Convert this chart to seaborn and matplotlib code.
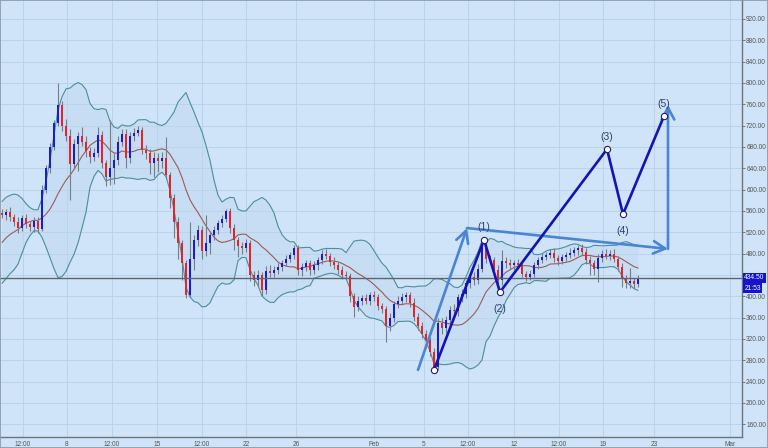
import numpy as np
import pandas as pd
import matplotlib
matplotlib.use("Agg")
import matplotlib.pyplot as plt
import seaborn as sns
from matplotlib.patches import Rectangle

# ---------------- data ----------------
warmup_close = [450, 462, 478, 470, 455, 470, 492, 510, 528, 540, 550, 556]

close = [552, 558, 548, 540, 528, 546, 536, 530, 542, 526,
         600, 640, 680, 725, 759, 720, 700, 648, 685, 700,
         690, 672, 662, 668, 702, 650, 624, 640, 655, 690,
         705, 660, 700, 706, 712, 675, 668, 650, 660, 654,
         660, 628, 585, 540, 500, 462, 402, 470, 505, 525,
         485, 500, 515, 525, 538, 545, 560, 528, 505, 495,
         490, 500, 440, 430, 440, 412, 448, 444, 450, 455,
         462, 470, 478, 490, 450, 455, 462, 450, 458, 468,
         480, 476, 465, 458, 450, 440, 438, 400, 380, 392,
         396, 392, 402, 398, 382, 376, 345, 360, 385, 392,
         398, 402, 388, 362, 345, 330, 318, 296, 268, 350,
         340, 356, 375, 372, 398, 405, 425, 436, 430, 452,
         495, 470, 468, 450, 430, 466, 462, 458, 462, 458,
         442, 436, 442, 458, 468, 474, 478, 482, 472, 466,
         474, 478, 482, 486, 490, 484, 468, 462, 452, 472,
         480, 476, 480, 470, 455, 432, 425, 428, 424, 434.5]

wick_up = [8, 6, 10, 6, 8, 6, 8, 6, 6, 6,
           8, 6, 8, 6, 41, 8, 12, 14, 10, 8,
           17, 10, 8, 10, 15, 8, 6, 90, 14, 10,
           8, 8, 8, 10, 8, 6, 8, 8, 10, 8,
           10, 39, 6, 6, 8, 6, 6, 70, 10, 8,
           6, 52, 8, 6, 6, 8, 4, 6, 8, 6,
           6, 8, 6, 8, 10, 6, 8, 10, 6, 8,
           6, 8, 6, 6, 6, 8, 6, 6, 8, 6,
           6, 8, 6, 8, 6, 6, 8, 6, 6, 8,
           6, 8, 6, 8, 6, 6, 6, 8, 6, 8,
           8, 6, 6, 8, 6, 6, 6, 6, 8, 10,
           10, 8, 6, 10, 6, 8, 6, 8, 10, 8,
           11, 6, 8, 6, 8, 21, 8, 8, 6, 8,
           6, 6, 8, 6, 6, 8, 6, 6, 8, 6,
           6, 6, 8, 6, 6, 8, 6, 8, 6, 8,
           6, 8, 6, 8, 6, 8, 8, 25, 6, 6]

wick_dn = [6, 8, 6, 8, 10, 6, 8, 8, 10, 8,
           4, 6, 8, 6, 6, 10, 8, 68, 10, 50,
           8, 10, 12, 8, 6, 10, 18, 16, 30, 8,
           8, 20, 10, 8, 6, 8, 10, 20, 26, 20,
           14, 8, 20, 30, 30, 32, 6, 4, 20, 10,
           15, 10, 20, 10, 8, 8, 6, 10, 18, 22,
           10, 6, 12, 10, 10, 12, 8, 8, 8, 8,
           8, 6, 6, 8, 10, 12, 8, 10, 8, 8,
           8, 6, 8, 6, 8, 8, 6, 10, 18, 8,
           8, 6, 8, 6, 8, 8, 31, 10, 8, 6,
           6, 8, 8, 8, 8, 8, 10, 8, 6, 6,
           10, 8, 8, 6, 8, 8, 8, 10, 8, 6,
           6, 8, 8, 8, 20, 8, 8, 6, 8, 6,
           6, 8, 6, 6, 6, 6, 6, 6, 8, 8,
           6, 8, 6, 6, 8, 6, 8, 22, 12, 26,
           8, 6, 8, 6, 8, 14, 9, 10, 8, 6]

x_tick_pos = [5.25, 16.25, 27.5, 38.75, 50, 61, 73.5, 93, 105.5, 116.5,
              128, 139.25, 150.25, 163, 182]
x_tick_labels = ["12:00", "8", "12:00", "15", "12:00", "22", "26", "Feb", "5",
                 "12:00", "12", "12:00", "19", "23", "Mar"]
y_ticks = list(range(160, 921, 40))

wave_x = [108, 120.5, 124.5, 151.25, 155.25, 165.5]
wave_y = [262, 506, 408, 676, 554, 738]
wave_labels = ["", "(1)", "(2)", "(3)", "(4)", "(5)"]
wave_label_dy = [0, 9, -12, 9, -12, 9]

arrow_x = [104, 116.25, 166.5, 166.5]
arrow_y = [262, 528, 489, 759]

last_price = 434.50
last_time = "21:53"

# ---------------- styling ----------------
BG = "#cfe4f8"
GRID = "#b6d0ea"
UP = "#1c1cc8"
DN = "#e3242b"
WICK = "#7c7c84"
BAND = "#4e8e98"
MID = "#9c5c58"
WAVE = "#1414b4"
ARROW = "#4a84d6"
TXT = "#555555"

sns.set_style("white")
plt.rcParams["font.family"] = ["Liberation Sans", "DejaVu Sans"]

fig = plt.figure(figsize=(7.68, 4.48), dpi=100, facecolor=BG)
ax = fig.add_axes([0, 11 / 448, 742 / 768, 1 - 11 / 448])
ax.set_facecolor(BG)

n = len(close)
x = np.arange(n)
c = np.array(close, dtype=float)
o = np.r_[warmup_close[-1], c[:-1]]
hi = np.maximum(o, c) + np.array(wick_up)
lo = np.minimum(o, c) - np.array(wick_dn)

# Bollinger bands computed from closes
s = pd.Series(np.r_[warmup_close, c])
mid = s.rolling(13).mean().to_numpy()[-n:]
sd = s.rolling(13).std(ddof=0).to_numpy()[-n:]
upper = mid + 2 * sd
lower = mid - 2 * sd

ax.fill_between(x, lower, upper, color="#bcd6ee", alpha=0.45, lw=0, zorder=1)
df = pd.DataFrame({"x": x, "upper": upper, "lower": lower, "mid": mid})
sns.lineplot(data=df, x="x", y="upper", ax=ax, color=BAND, lw=0.8, zorder=2)
sns.lineplot(data=df, x="x", y="lower", ax=ax, color=BAND, lw=0.8, zorder=2)
sns.lineplot(data=df, x="x", y="mid", ax=ax, color=MID, lw=0.8, zorder=2)

# candles
ax.vlines(x, lo, hi, color=WICK, lw=0.8, zorder=3)
cols = [UP if cc >= oo else DN for oo, cc in zip(o, c)]
ax.bar(x, c - o, bottom=o, width=0.72, color=cols, lw=0, zorder=4)

# last price line
ax.axhline(last_price, color="#5c6670", lw=1.0, zorder=5)

# light-blue arrows
for i in range(len(arrow_x) - 1):
    ax.annotate("", xy=(arrow_x[i + 1], arrow_y[i + 1]), xytext=(arrow_x[i], arrow_y[i]),
                arrowprops=dict(arrowstyle="->,head_length=0.85,head_width=0.45",
                                color=ARROW, lw=1.9, shrinkA=0, shrinkB=0),
                zorder=6)

# Elliott wave
sns.lineplot(x=wave_x, y=wave_y, ax=ax, sort=False, color=WAVE, lw=1.9, zorder=7)
ax.plot(wave_x, wave_y, ls="none", marker="o", ms=4.5, mfc="white", mec="#202060",
        mew=0.8, zorder=8)
for wx, wy, lab, dy in zip(wave_x, wave_y, wave_labels, wave_label_dy):
    if lab:
        ax.annotate(lab, (wx, wy), xytext=(0, dy), textcoords="offset points",
                    ha="center", va="center", fontsize=7.5, color="#34406e", zorder=9)

# axes
ax.set_xlim(-0.5, 185)
ax.set_ylim(136.25, 955.6)
ax.set_xticks(x_tick_pos)
ax.set_xticklabels(x_tick_labels)
ax.set_yticks(y_ticks)
ax.set_yticklabels(["" if v == 440 else f"{v:.2f}" for v in y_ticks])
ax.yaxis.tick_right()
ax.tick_params(axis="both", labelsize=4.7, colors="#666666", labelcolor=TXT,
               length=2.2, width=0.6, pad=0.8)
ax.grid(True, color=GRID, lw=0.6, zorder=0)
ax.set_axisbelow(True)
ax.set_xlabel("")
ax.set_ylabel("")
for side in ["left", "top"]:
    ax.spines[side].set_visible(False)
for side in ["right", "bottom"]:
    ax.spines[side].set_color("#6e747c")
    ax.spines[side].set_linewidth(1.0)

tr = ax.get_yaxis_transform()
ax.text(1.003, last_price, f"{last_price:.2f}", transform=tr, ha="left", va="center",
        fontsize=4.8, color="white", zorder=10, clip_on=False,
        bbox=dict(boxstyle="square,pad=0.25", fc="#1414c8", ec="none"))
ax.text(1.003, last_price - 19, last_time, transform=tr, ha="left", va="center",
        fontsize=4.8, color="white", zorder=10, clip_on=False,
        bbox=dict(boxstyle="square,pad=0.25", fc="#1414c8", ec="none"))

fig.patches.append(Rectangle((0, 0), 1, 1, transform=fig.transFigure, fill=False,
                             ec="#8a96a4", lw=1.2))

fig.savefig("out.png", dpi=100, facecolor=BG)
